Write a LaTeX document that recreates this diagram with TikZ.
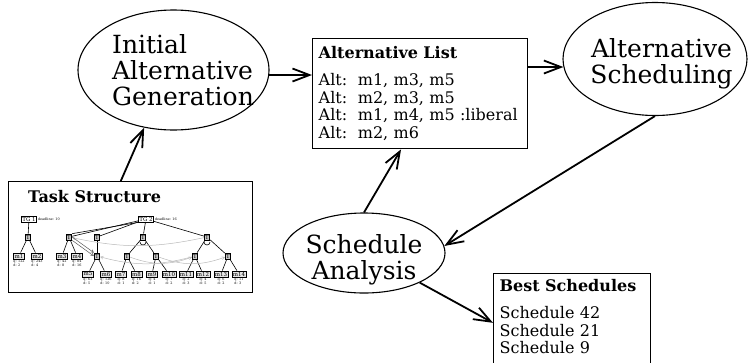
\documentclass[tikz,border=0pt]{standalone}
\usepackage{fontspec}
\setmainfont{DejaVu Serif}
\usetikzlibrary{shapes.geometric,arrows.meta,positioning}

\begin{document}
\begin{tikzpicture}[x=1pt,y=-1pt,
  proc/.style={ellipse,draw,line width=1.1pt,inner sep=0pt},
  big/.style={font=\fontsize{25}{26}\selectfont,inner sep=0pt},
  listbox/.style={draw,line width=1.4pt,anchor=north west,align=left,
    inner sep=6pt,font=\fontsize{16}{17.7}\selectfont},
  arr/.style={line width=1.8pt,-{Straight Barb[length=17pt,width=13pt]}},
  tg/.style={draw,fill=white,line width=0.7pt,inner sep=1pt,
    font=\fontsize{5.5}{6}\selectfont},
  tsk/.style={draw,fill=gray!45,line width=0.7pt,inner sep=1pt,
    font=\fontsize{5.5}{6}\selectfont},
  mth/.style={draw,fill=gray!20,line width=0.7pt,inner sep=1pt,
    font=\fontsize{5.5}{6}\selectfont},
  tiny/.style={font=\fontsize{3.4}{3.6}\selectfont,inner sep=0pt,align=left},
  sub/.style={line width=0.6pt},
  rel/.style={draw=gray!55,line width=0.5pt,-{Straight Barb[length=2.5pt,width=3pt]}},
  enb/.style={draw=gray!70!black,line width=0.5pt,-{Straight Barb[length=2.5pt,width=3pt]}}]

\useasboundingbox (0,0) rectangle (751,362);

\node[proc,minimum width=191pt,minimum height=120pt] (gen) at (173.5,70) {};
\node[big,align=left] (gentext) at (183,70.5) {Initial\\Alternative\\Generation};

\node[listbox,text width=203pt,minimum height=110pt] (list) at (312,38) {\textbf{Alternative List}\\[9pt]
Alt:\ \ m1, m3, m5\\Alt:\ \ m2, m3, m5\\Alt:\ \ m1, m4, m5 :liberal\\Alt:\ \ m2, m6};

\node[proc,minimum width=184pt,minimum height=113pt] (sched) at (655,59) {};
\node[big,align=center] (schedtext) at (661.5,64) {Alternative\\Scheduling};

\node[proc,minimum width=162pt,minimum height=80pt] (anal) at (364,253) {};
\node[big,align=center] (analtext) at (364,259.5) {Schedule\\Analysis};

\node[listbox,text width=145pt] (best) at (493,273) {\textbf{Best Schedules}\\[9pt]
Schedule 42\\Schedule 21\\Schedule 9\rule[-12pt]{0pt}{12pt}};

\node[draw,line width=1.4pt,anchor=north west,minimum width=244pt,minimum height=111pt,inner sep=0pt] (task) at (8,181) {};
\node[font=\fontsize{16}{18}\selectfont\bfseries,anchor=base west,inner sep=0pt] (tasktitle) at (28,202) {Task Structure};

\node[tg] (tg1) at (29,219) {TG 1};
\node[tiny,right=0.8pt of tg1] (dl1) {deadline: 10};
\node[tg] (tg2) at (146,219) {TG 2};
\node[tiny,right=0.8pt of tg2] (dl2) {deadline: 16};

\foreach \n/\x/\y in {1/28/237, 2/69/237, 3/97/237, 4/143/237, 5/207/237, 6/97/256, 7/127/256, 8/156/256, 9/195/256, 10/228/256}
  \node[tsk] (t\n) at (\x,\y) {T};

\foreach \n/\x/\y/\q/\d in {1/19/256/122/2, 2/37/256/243/4, 3/62/256/42/8, 4/77/256/84/16, 5/88/274/63/5, 6/106/274/126/10, 7/121/274/8/1, 8/136.5/274/16/2, 9/152/274/4/1, 10/169/274/7/2, 11/186/274/2/3, 12/203/274/4/5, 13/221/274/6/2, 14/239/274/11/3}{
  \node[mth] (m\n) at (\x,\y) {m\n};
  \node[tiny,below=0.8pt of m\n] (qd\n) {q: \q\\d: \d};
}

\foreach \a/\b in {tg1/t1, t1/m1, t1/m2, tg2/t2, tg2/t3, tg2/t4, tg2/t5, t2/m3, t2/m4, t3/t6, t6/m5, t6/m6, t4/t7, t4/t8, t7/m7, t7/m8, t8/m9, t8/m10, t5/t9, t5/t10, t9/m11, t9/m12, t10/m13, t10/m14}
  \draw[sub] (\a) -- (\b);
\draw[sub] (tg2.south west) -- (t2.north east);

\draw[sub] ([xshift=-3pt,yshift=-5pt]t4.center) arc[start angle=180,end angle=360,radius=3pt];
\draw[sub] ([xshift=-3pt,yshift=-5pt]t5.center) arc[start angle=180,end angle=360,radius=3pt];

\draw[rel] (t5) to[bend left=12] (t2);
\draw[rel] (t9) to[bend left=15] (t6);
\draw[rel] (t7) to[bend right=20] (t9);
\draw[rel] (t8) to[bend right=20] (t10);
\draw[enb] (t2.east) -- (t6.north west);
\draw[enb] (t2.south east) -- (t6.west);

\draw[arr] (task.100) -- (gen.243);
\draw[arr] (gen.-3) -- (gen.-3 -| list.west);
\draw[arr] (sched.185 -| list.east) -- (sched.185);
\draw[arr] (sched.south) -- (anal.5);
\draw[arr] (anal.north) -- (list.251);
\draw[arr] (anal.-28) -- (best.west);

\end{tikzpicture}
\end{document}
